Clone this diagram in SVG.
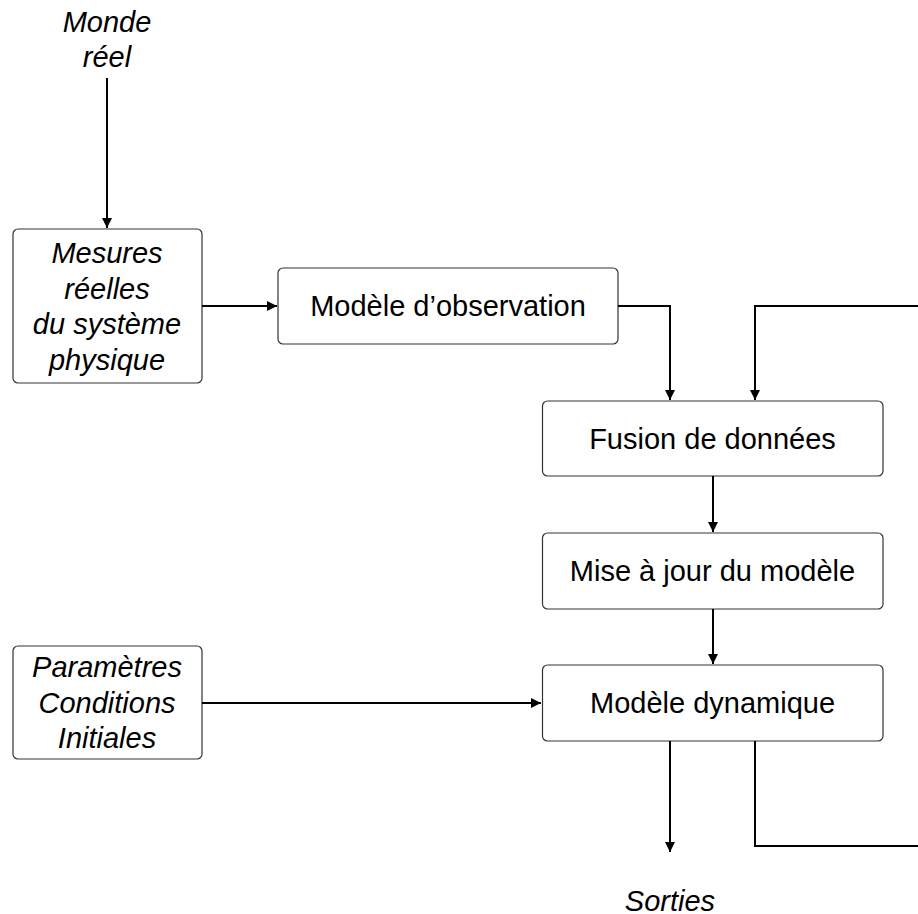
<svg xmlns="http://www.w3.org/2000/svg" width="918" height="914" viewBox="0 0 918 914">
<style>
.box{fill:#fff;stroke:#333;stroke-width:1.2}
.t{font-family:"Liberation Sans",Arial,sans-serif;font-size:29px;fill:#000;text-anchor:middle}
.i{font-style:italic}
.c{fill:none;stroke:#000;stroke-width:2}
</style>
<defs>
<marker id="ah" viewBox="0 0 10 10" refX="10" refY="5" markerWidth="5" markerHeight="5" orient="auto" markerUnits="strokeWidth">
<path d="M0,0 L10,5 L0,10 Z" fill="#000"/>
</marker>
</defs>
<g id="monde"><text class="t i" x="107" y="32">Monde</text><text class="t i" x="107" y="67">réel</text></g>
<g id="mesures"><rect class="box" x="13" y="229" width="189" height="154" rx="5"/>
<text class="t i" x="107" y="263">Mesures</text><text class="t i" x="107" y="298.5">réelles</text><text class="t i" x="107" y="334">du système</text><text class="t i" x="107" y="369.5">physique</text></g>
<g id="observation"><rect class="box" x="278" y="268" width="340" height="76" rx="5"/><text class="t" x="448" y="316">Modèle d’observation</text></g>
<g id="fusion"><rect class="box" x="542.5" y="401" width="340.5" height="75" rx="5"/><text class="t" x="712.5" y="448.5">Fusion de données</text></g>
<g id="mise"><rect class="box" x="542.5" y="533" width="340.5" height="76" rx="5"/><text class="t" x="712.5" y="581">Mise à jour du modèle</text></g>
<g id="dynamique"><rect class="box" x="542.5" y="665" width="340.5" height="76" rx="5"/><text class="t" x="712.5" y="713">Modèle dynamique</text></g>
<g id="parametres"><rect class="box" x="13" y="646" width="189" height="113" rx="5"/>
<text class="t i" x="107" y="677">Paramètres</text><text class="t i" x="107" y="712.5">Conditions</text><text class="t i" x="107" y="748">Initiales</text></g>
<g id="sorties"><text class="t i" x="670" y="911">Sorties</text></g>
<g id="connectors">
<path class="c" d="M107,78 V228" marker-end="url(#ah)"/>
<path class="c" d="M202,306 H277" marker-end="url(#ah)"/>
<path class="c" d="M618,306 H670 V400" marker-end="url(#ah)"/>
<path class="c" d="M918,306 H755 V400" marker-end="url(#ah)"/>
<path class="c" d="M713,476 V532" marker-end="url(#ah)"/>
<path class="c" d="M713,609 V664" marker-end="url(#ah)"/>
<path class="c" d="M202,703 H541" marker-end="url(#ah)"/>
<path class="c" d="M670,741 V852" marker-end="url(#ah)"/>
<path class="c" d="M755,741 V846 H918"/>
</g>
</svg>
